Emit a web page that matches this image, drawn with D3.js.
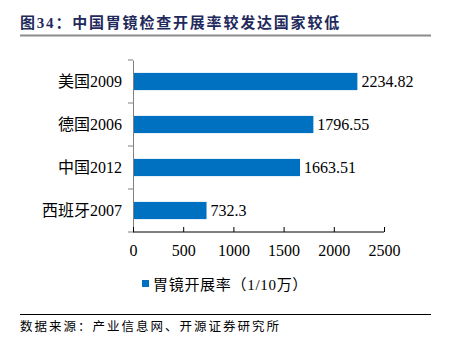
<!DOCTYPE html>
<html>
<head>
<meta charset="utf-8">
<script src="https://cdn.jsdelivr.net/npm/d3@7"></script>
<style>
  html, body { margin: 0; padding: 0; background: #fff; }
  svg { display: block; }
</style>
</head>
<body>
<svg id="chart" width="449" height="349"></svg>
<script>
// Gastroscopy rates per 100k population by country/year
const categories = ["美国2009", "德国2006", "中国2012", "西班牙2007"];
const values = [2234.82, 1796.55, 1663.51, 732.3];
const xTicks = [0, 500, 1000, 1500, 2000, 2500];
const titleText = "图34：中国胃镜检查开展率较发达国家较低";
const legendText = "胃镜开展率（1/10万）";
const sourceText = "数据来源：产业信息网、开源证券研究所";

const serif = '"Liberation Serif", "Times New Roman", "Noto Sans CJK SC", serif';
const barColor = "#0070C0";

const svg = d3.select("#chart");

// Header
svg.append("text")
  .attr("x", 20).attr("y", 28)
  .attr("font-family", serif)
  .attr("font-size", 15).attr("font-weight", "bold")
  .attr("letter-spacing", 1.8)
  .attr("fill", "#1F2A5C")
  .text(titleText);
svg.append("rect")
  .attr("x", 20).attr("y", 34.5).attr("width", 411).attr("height", 2)
  .attr("fill", "#8c8c8c");

const x = d3.scaleLinear().domain([0, 2500]).range([133, 384]);
const y = d3.scaleBand().domain(categories).range([60, 232])
  .paddingInner(0.6).paddingOuter(0.3);

// Bars
svg.append("g").selectAll("rect").data(values).join("rect")
  .attr("x", x(0))
  .attr("y", (d, i) => y(categories[i]))
  .attr("width", d => x(d) - x(0))
  .attr("height", y.bandwidth())
  .attr("fill", barColor);

// Value labels
svg.append("g").selectAll("text").data(values).join("text")
  .attr("x", d => x(d) + 4)
  .attr("y", (d, i) => y(categories[i]) + y.bandwidth() / 2)
  .attr("dy", "0.35em")
  .attr("font-family", serif).attr("font-size", 16)
  .attr("fill", "#000")
  .text(d => d3.format(".2~f")(d));

// Category axis
const yAxis = svg.append("g")
  .attr("transform", `translate(${x(0)},0)`)
  .call(d3.axisLeft(y).tickSize(0).tickPadding(11));
yAxis.select(".domain").attr("stroke", "#808080");
yAxis.selectAll("text").attr("font-family", serif).attr("font-size", 16).attr("fill", "#000");
// Boundary ticks between categories
const bounds = d3.range(categories.length + 1).map(i => 60 + i * y.step());
yAxis.selectAll(".bound").data(bounds).join("line")
  .attr("class", "bound")
  .attr("x1", -5).attr("x2", 0)
  .attr("y1", d => d).attr("y2", d => d)
  .attr("stroke", "#808080");

// Value axis
const xAxis = svg.append("g")
  .attr("transform", "translate(0,232)")
  .call(d3.axisBottom(x).tickValues(xTicks).tickSize(-5).tickPadding(13).tickFormat(d3.format("d")));
xAxis.select(".domain").attr("stroke", "#000").attr("d", `M${x(0)},0H${x(2500)}`);
xAxis.selectAll(".tick line").attr("stroke", "#000");
xAxis.selectAll("text").attr("font-family", serif).attr("font-size", 16).attr("fill", "#000");

// Legend
svg.append("rect")
  .attr("x", 142).attr("y", 280).attr("width", 7).attr("height", 7)
  .attr("fill", barColor);
svg.append("text")
  .attr("x", 153).attr("y", 289.5)
  .attr("font-family", serif).attr("font-size", 15)
  .attr("letter-spacing", 0.7)
  .attr("fill", "#000")
  .text(legendText);

// Footer
svg.append("line")
  .attr("x1", 20).attr("x2", 431).attr("y1", 314.5).attr("y2", 314.5)
  .attr("stroke", "#000").attr("stroke-width", 1);
svg.append("text")
  .attr("x", 20).attr("y", 331)
  .attr("font-family", serif).attr("font-size", 12.5)
  .attr("letter-spacing", 2)
  .attr("fill", "#000")
  .text(sourceText);
</script>
</body>
</html>
